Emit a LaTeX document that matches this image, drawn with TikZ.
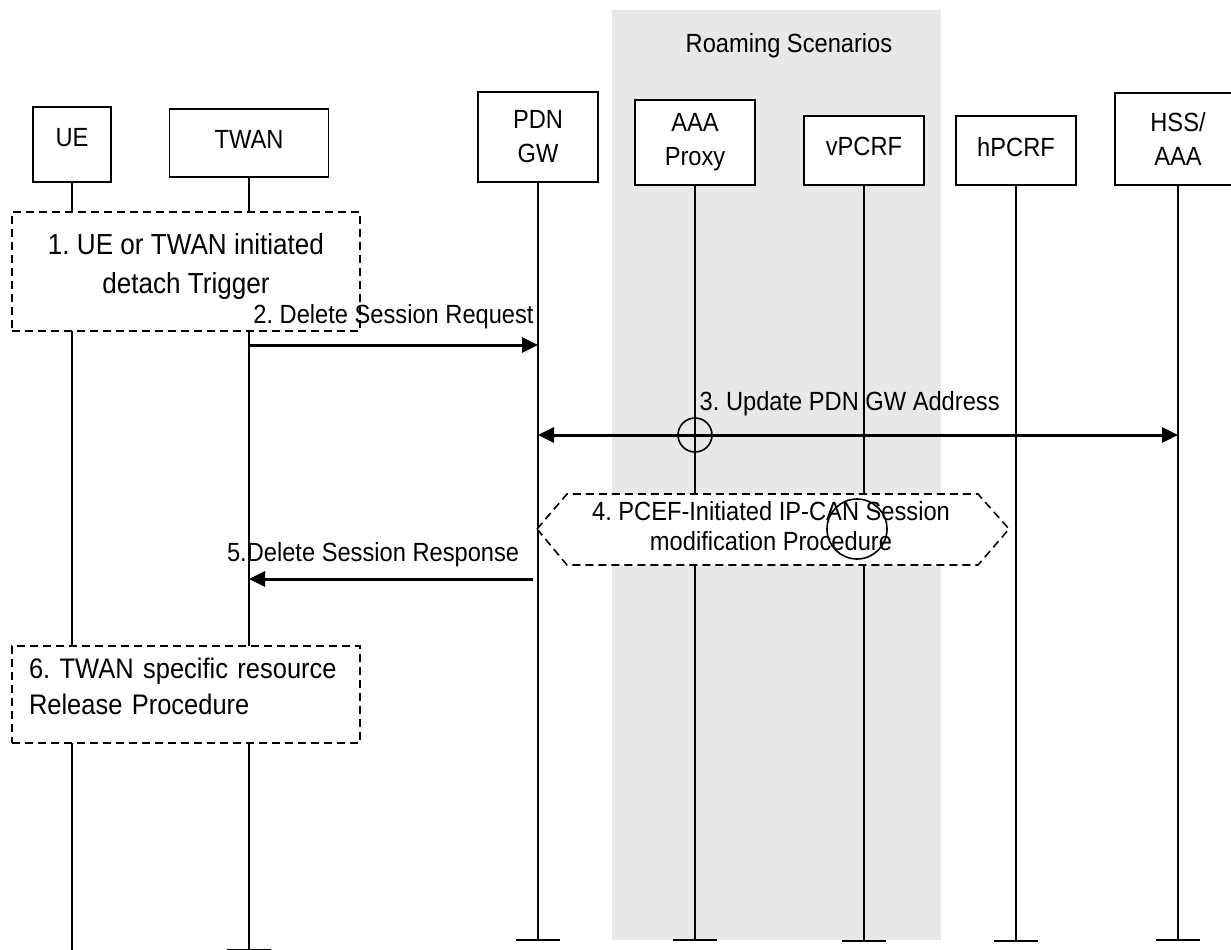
\documentclass[tikz,border=0pt]{standalone}
\usepackage{fontspec}
\setmainfont{Liberation Sans}[FakeStretch=0.9]
\usetikzlibrary{arrows.meta}

\definecolor{roamgrey}{HTML}{E8E8E8}
\tikzset{ent/.style={draw,line width=1.6pt,fill=white,align=center,inner sep=0pt}}
\tikzset{life/.style={line width=1.6pt}}
\tikzset{dbox/.style={draw,line width=1.6pt,dash pattern=on 8pt off 5pt,fill=white}}
\tikzset{msg/.style={line width=3pt,>={Triangle[length=16pt,width=15pt]},->}}
\tikzset{lbl/.style={inner sep=0pt}}

\begin{document}
\frenchspacing
\begin{tikzpicture}
  [x=1pt,y=-1pt,
  every node/.style={font=\fontsize{26.3}{34}\selectfont}]
  \useasboundingbox (0,0) rectangle (1231,950);
  \fill[roamgrey] (612,10) rectangle (941,940);
  \node (roam) at (789,46) {Roaming Scenarios};

  % entities
  \node[ent,minimum width=78,minimum height=75,text depth=15pt] (ue) at (72,144.5) {UE};
  \node[ent,minimum width=159,minimum height=68,text depth=8pt] (twan) at (249,143) {TWAN};
  \node[ent,minimum width=120,minimum height=90] (pdn) at (538,137) {PDN\\GW};
  \node[ent,minimum width=120,minimum height=85] (aaa) at (695,142.5) {AAA\\Proxy};
  \node[ent,minimum width=120,minimum height=69,text depth=8pt] (vpcrf) at (864,150.5) {vPCRF};
  \node[ent,minimum width=120,minimum height=69,text depth=8pt] (hpcrf) at (1016,150.5) {hPCRF};
  \node[ent,minimum width=126,minimum height=92] (hss) at (1178,139) {HSS/\\AAA};

  % lifelines
  \coordinate (ue-end) at (72,956);
  \coordinate (twan-end) at (249,949.5);
  \coordinate (pdn-end) at (538,940);
  \coordinate (aaa-end) at (695,940);
  \coordinate (vpcrf-end) at (864,941);
  \coordinate (hpcrf-end) at (1016,941);
  \coordinate (hss-end) at (1178,940);
  \draw[life] (ue) -- (ue-end);
  \foreach \n in {twan,pdn,aaa,vpcrf,hpcrf,hss}
    \draw[life] (\n) -- (\n-end) ([xshift=-22pt]\n-end) -- ([xshift=22pt]\n-end);

  % step 1
  \node[dbox,minimum width=348,minimum height=119,align=center,text depth=17pt,
    font=\fontsize{29}{39}\selectfont] (trig) at (186,271.5)
    {1. UE or TWAN initiated\\detach Trigger};

  % step 2
  \coordinate (m2s) at (249,345);
  \coordinate (m2e) at (538,345);
  \draw[msg] (m2s) -- node[lbl,above=14.5pt] (l2) {2. Delete Session Request} (m2e);

  % step 3
  \coordinate (m3s) at (538,435);
  \coordinate (m3e) at (1178,435);
  \coordinate (x3) at (695,435);
  \draw[msg,<->] (m3s) -- node[lbl,above=17.5pt,pos=0.487] (l3) {3. Update PDN GW Address} (m3e);
  \draw[life] (x3) circle[radius=17pt];

  % step 4
  \draw[dbox] (537,529) -- (567,494) -- (978,494) -- (1009,529) -- (978,565) -- (567,565) -- cycle;
  \node[align=center,text depth=0pt,font=\fontsize{26.3}{30}\selectfont] (p4) at (771,526)
    {4. PCEF-Initiated IP-CAN Session\\modification Procedure};
  \coordinate (x4) at (857,529);
  \draw[life] (x4) circle[radius=30pt];

  % step 5
  \coordinate (m5s) at (533,579);
  \coordinate (m5e) at (249,579);
  \draw[msg] (m5s) -- node[lbl,above=10.5pt,pos=0.563] (l5) {5.Delete Session Response} (m5e);

  % step 6
  \node[dbox,minimum height=97,text width=314pt,inner xsep=17pt,inner ysep=0pt,align=left,
    text depth=53pt,font=\fontsize{28.3}{36}\selectfont] (rel) at (186,694.5)
    {6. TWAN specific resource\\Release Procedure};
\end{tikzpicture}
\end{document}
